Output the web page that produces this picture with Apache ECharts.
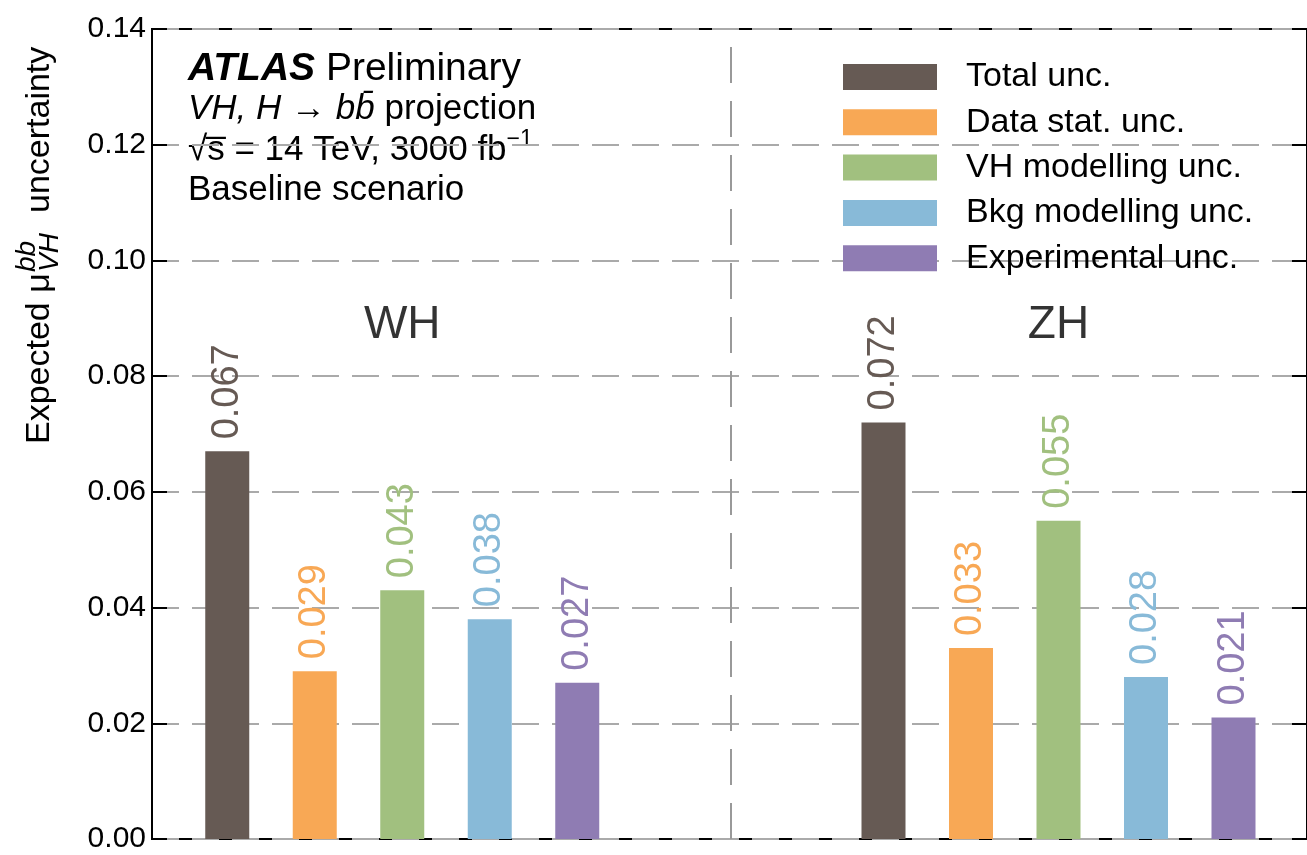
<!DOCTYPE html>
<html>
<head>
<meta charset="utf-8">
<script src="https://cdn.jsdelivr.net/npm/echarts@6/dist/echarts.min.js"></script>
<style>
html,body{margin:0;padding:0;background:#fff;}
#chart{width:1307px;height:855px;}
</style>
</head>
<body>
<div id="chart"></div>
<script>
// ---- data ----
const groups = ['WH', 'ZH'];
const seriesNames = ['Total unc.', 'Data stat. unc.', 'VH modelling unc.', 'Bkg modelling unc.', 'Experimental unc.'];
const whValues = [0.067, 0.029, 0.043, 0.038, 0.027];
const zhValues = [0.072, 0.033, 0.055, 0.028, 0.021];
const colors = ['#665a54', '#f8a855', '#a1c07f', '#88bad8', '#8f7cb3'];
const yMin = 0, yMax = 0.14, yInterval = 0.02;

// ---- layout constants (x slot positions, in units of bar spacing) ----
const groupStart = [0, 7.5];
const xMin = -0.86, xMax = 12.34;
const dividerX = 5.75;
const groupLabelY = 0.0888;
const FONT = '"Liberation Sans", Arial, Helvetica, sans-serif';

const groupValues = [whValues, zhValues];
const series = seriesNames.map((name, i) => ({
  name: name,
  type: 'bar',
  barWidth: 44,
  barGap: '-100%',
  itemStyle: { color: colors[i] },
  label: {
    show: true,
    position: 'top',
    rotate: 90,
    align: 'left',
    verticalAlign: 'middle',
    distance: 12,
    color: colors[i],
    fontSize: 38,
    fontFamily: FONT,
    formatter: p => p.value[1].toFixed(3)
  },
  data: groupValues.map((vals, g) => [groupStart[g] + i, vals[i]])
}));

series.push({
  type: 'scatter',
  silent: true,
  symbolSize: 1,
  itemStyle: { color: 'rgba(0,0,0,0)' },
  label: {
    show: true,
    position: 'inside',
    color: '#000',
    fontSize: 46,
    fontFamily: FONT,
    formatter: p => groups[p.dataIndex]
  },
  data: groups.map((g, k) => [groupStart[k] + (seriesNames.length - 1) / 2, groupLabelY]),
  markLine: {
    silent: true,
    symbol: 'none',
    label: { show: false },
    lineStyle: { color: '#999', width: 2, type: [36, 18] },
    data: [{ xAxis: dividerX }]
  }
});

const chart = echarts.init(document.getElementById('chart'), null, { renderer: 'canvas' });
chart.setOption({
  animation: false,
  backgroundColor: '#fff',
  grid: { left: 152, right: -3, top: 29, bottom: 16, show: true, borderColor: '#000', borderWidth: 2, backgroundColor: 'transparent' },
  legend: {
    data: seriesNames,
    orient: 'vertical',
    left: 843,
    top: 60,
    padding: 0,
    itemWidth: 94,
    itemHeight: 26,
    itemGap: 11.3,
    icon: 'rect',
    textStyle: { fontSize: 34, fontFamily: FONT, color: '#000', padding: [0, 0, 0, 24] }
  },
  xAxis: {
    type: 'value', min: xMin, max: xMax,
    axisLine: { show: false, onZero: false }, axisTick: { show: false }, axisLabel: { show: false }, splitLine: { show: false }
  },
  yAxis: [{
    type: 'value', min: yMin, max: yMax, interval: yInterval,
    axisLine: { show: true, onZero: false, lineStyle: { color: '#000', width: 2 } },
    axisTick: { show: true, inside: true, length: 15, lineStyle: { color: '#000', width: 2 } },
    axisLabel: { fontSize: 30, fontFamily: FONT, color: '#000', margin: 6, formatter: v => v.toFixed(2) },
    splitLine: { show: true, lineStyle: { color: '#aaa', width: 2, type: [27, 13] } }
  }, {
    type: 'value', min: yMin, max: yMax, interval: yInterval, position: 'right',
    axisLine: { show: false, onZero: false },
    axisTick: { show: true, inside: true, length: 15, lineStyle: { color: '#000', width: 2 } },
    axisLabel: { show: false },
    splitLine: { show: false }
  }],
  graphic: [
    {
      type: 'group', x: 40, y: 444, rotation: Math.PI / 2,
      children: [
        { type: 'text', x: 0, y: 0, style: { text: 'Expected μ', font: '34px ' + FONT, fill: '#000', textVerticalAlign: 'middle' } },
        { type: 'text', x: 172, y: -13, style: { text: 'bb', font: 'italic 28px ' + FONT, fill: '#000', textVerticalAlign: 'middle' } },
        { type: 'text', x: 172, y: 10, style: { text: 'VH', font: 'italic 28px ' + FONT, fill: '#000', textVerticalAlign: 'middle' } },
        { type: 'text', x: 231, y: 0, style: { text: 'uncertainty', font: '34px ' + FONT, fill: '#000', textVerticalAlign: 'middle' } }
      ]
    },
    {
      type: 'text', left: 188, top: 50,
      style: {
        text: '{a|ATLAS}{r| Preliminary}',
        rich: {
          a: { font: 'italic bold 39px ' + FONT, fill: '#000' },
          r: { font: '39px ' + FONT, fill: '#000' }
        }
      }
    },
    {
      type: 'text', left: 188, top: 92,
      style: {
        text: '{i|VH, H \u2192 bb\u0304}{r| projection}',
        rich: {
          i: { font: 'italic 35px ' + FONT, fill: '#000' },
          r: { font: '35px ' + FONT, fill: '#000' }
        }
      }
    },
    {
      type: 'text', left: 188, top: 128,
      style: {
        text: '{r|\u221As\u0305 = 14 TeV, 3000 fb}{s|\u22121}',
        rich: {
          r: { font: '35px ' + FONT, fill: '#000', verticalAlign: 'bottom', lineHeight: 40 },
          s: { font: '23px ' + FONT, fill: '#000', verticalAlign: 'top', lineHeight: 40 }
        }
      }
    },
    {
      type: 'text', left: 188, top: 173,
      style: { text: 'Baseline scenario', font: '35px ' + FONT, fill: '#000' }
    }
  ],
  series: series
});
</script>
</body>
</html>
